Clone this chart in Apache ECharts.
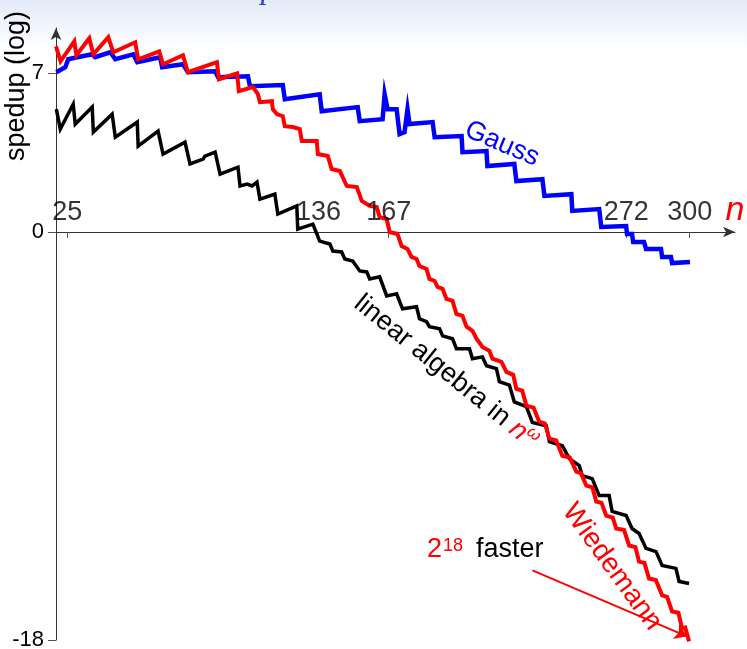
<!DOCTYPE html>
<html>
<head>
<meta charset="utf-8">
<script src="https://cdn.jsdelivr.net/npm/echarts@6/dist/echarts.min.js"></script>
<style>
html,body{margin:0;padding:0;background:#fff;}
#chart{width:747px;height:649px;}
</style>
</head>
<body>
<div id="chart"></div>
<script>
// ---- data (n, log speedup) ----
const xTickValues = [25, 136, 167, 272, 300];
const yTickValues = [-18, 0, 7];

const wiedemann = [
  [20,8.19],[22,7.53],[28.1,8.41],[29,7.80],[34.7,8.55],[36.5,7.84],[43.1,8.59],[45.3,7.93],
  [55,8.37],[56.3,7.62],[65.6,7.97],[67.3,7.40],[76.1,7.80],[78.3,7.05],[91.1,7.49],[92,6.74],
  [100,7.00],[100.8,6.21],[107,6.39],[109.2,6.08],[110.1,5.73],[115.4,5.77],[115.8,5.42],
  [117.6,5.20],[120.2,5.11],[121.1,4.67],[124.6,4.63],[127.7,4.54],[128.6,4.01],[135.2,4.01],
  [135.7,3.44],[140.1,3.35],[141.8,2.78],[145.4,2.69],[148.5,2.03],[152.9,1.98],[155.1,1.37],
  [158.6,1.15],[161.7,1.10],[163,0.66],[166.1,0.57],[167.4,0],[170.9,-0.09],[172.7,-0.62],
  [175.3,-0.75],[177.1,-1.10],[179.3,-1.19],[180.6,-1.50],[183.7,-1.63],[185,-2.07],[187.3,-2.16],
  [188.6,-2.42],[190.8,-2.51],[192.5,-2.95],[195.2,-3.04],[196.9,-3.61],[199.6,-3.70],[201.4,-4.18],
  [204,-4.36],[205.8,-4.71],[208.4,-5.07],[211.5,-5.24],[212.8,-5.59],[216.8,-5.73],[219,-6.17],
  [222,-6.3],[223.4,-6.92],[226,-7.0],[227.8,-7.66],[231,-7.75],[233.5,-8.37],[236,-8.45],
  [238,-9.12],[241,-9.2],[243.7,-9.87],[247,-9.95],[249.9,-10.57],[252,-10.65],[254.3,-11.19],
  [257,-11.27],[258.7,-11.89],[261,-11.95],[263.1,-12.51],[266,-12.6],[267.5,-13.08],[271,-13.15],
  [273.2,-13.83],[276,-13.9],[277.6,-14.54],[280,-14.6],[282,-15.29],[285,-15.35],[287.8,-16.03],
  [290,-16.1],[292.2,-16.74],[295,-16.8],[296.6,-17.49],[298,-17.45],[299.7,-18.06]
];

const linearAlgebra = [
  [20.15,5.42],[21.9,4.54],[27.6,5.64],[28.5,4.76],[36,5.51],[36.5,4.41],[44.8,5.20],[46.2,4.18],
  [55.9,4.85],[56.3,3.79],[65.1,4.45],[67.3,3.44],[77,3.96],[79.2,3.00],[85,3.22],[85.8,3.35],
  [90.3,3.52],[92.5,2.55],[100.4,2.86],[101.3,2.03],[104.4,2.11],[106.6,2.03],[108.8,2.20],
  [110.1,1.45],[116.7,1.67],[118,0.79],[126.4,1.15],[126.8,0.13],[133.5,0.35],[136.5,-0.40],
  [141,-0.53],[142.3,-0.84],[146.2,-0.88],[147.6,-1.19],[151.1,-1.28],[154.2,-1.72],[157.3,-1.76],
  [158.6,-2.07],[163,-1.98],[166.1,-2.82],[170.5,-2.73],[173.1,-3.39],[179.3,-3.30],[180.6,-3.83],
  [183.7,-3.96],[185,-4.18],[189.5,-4.27],[190.8,-4.58],[195.2,-4.71],[196.9,-5.15],[202.7,-5.15],
  [204,-5.59],[208.4,-5.51],[210.2,-5.90],[214.6,-6.03],[215.9,-6.6],[220.3,-6.75],[222.5,-7.5],
  [227.8,-7.7],[230.5,-8.4],[236.6,-8.55],[238,-9.25],[243.7,-9.43],[246.8,-10.00],[251.2,-10.31],
  [252.5,-10.75],[256.9,-10.88],[260,-11.63],[264.4,-11.63],[265.7,-12.33],[271.9,-12.51],
  [274.5,-13.08],[277.6,-13.30],[280.7,-13.96],[285.1,-14.10],[287.8,-14.71],[293.9,-14.84],
  [295.3,-15.42],[299.7,-15.51]
];

const gauss = [
  [20.15,7.05],[24.1,7.27],[25.4,7.62],[29.4,7.71],[36,7.84],[37.3,7.71],[44,7.93],[46.2,7.62],
  [54.1,7.84],[55.9,7.49],[66,7.71],[66.9,7.27],[76.1,7.40],[78.3,7.05],[90.3,7.09],[91.6,6.83],
  [104.8,6.87],[105.7,6.43],[120.2,6.48],[121.1,5.86],[136.5,6.08],[137.4,5.33],[153.3,5.51],
  [154.2,4.89],[164.3,4.98],[165.2,6.08],[166.5,5.42],[170.5,5.42],[171.8,4.32],[174,4.41],
  [175.3,5.42],[176.2,4.76],[186.4,4.85],[187.3,4.18],[199.2,4.23],[199.6,3.52],[210.2,3.57],
  [210.6,2.91],[222.5,3.00],[223.4,2.25],[234.9,2.33],[235.8,1.59],[247.7,1.67],[248.1,0.93],
  [260,1.01],[260.9,0.22],[271.9,0.26],[272.3,-0.09],[274.5,-0.09],[275,-0.44],[279.8,-0.44],
  [280.7,-0.75],[287.3,-0.75],[287.8,-1.10],[291.7,-1.10],[292.2,-1.37],[300.1,-1.32]
];

const arrowFrom = [230.5, -14.93];
const arrowTo = [298.8, -17.84];

// ---- chart ----
const FONT = '"Liberation Sans", Arial, Helvetica, sans-serif';
const chart = echarts.init(document.getElementById('chart'), null, {renderer: 'canvas'});
const deg = Math.PI / 180;

const option = {
  animation: false,
  backgroundColor: '#ffffff',
  textStyle: {fontFamily: FONT},
  grid: {left: 56, right: 12, top: 28, bottom: 9, containLabel: false, outerBoundsMode: 'none'},
  xAxis: {
    type: 'value', min: 20, max: 320,
    axisLine: {show: true, onZero: true, symbol: ['none', 'arrow'], symbolSize: [8, 12],
      lineStyle: {color: '#333', width: 1}},
    axisTick: {show: true, customValues: xTickValues, length: 6, lineStyle: {color: '#555'}},
    axisLabel: {show: false},
    splitLine: {show: false}
  },
  yAxis: {
    type: 'value', min: -18, max: 9,
    axisLine: {show: true, onZero: false, symbol: ['none', 'arrow'], symbolSize: [8, 12],
      lineStyle: {color: '#333', width: 1}},
    axisTick: {show: true, customValues: yTickValues, length: 8, lineStyle: {color: '#555'}},
    axisLabel: {customValues: yTickValues, margin: 12, fontSize: 22, color: '#000', fontFamily: FONT},
    splitLine: {show: false}
  },
  series: [
    {name: 'Gauss', type: 'line', data: gauss, showSymbol: false, clip: false, z: 2,
      lineStyle: {color: '#0000ff', width: 4.5, join: 'miter'}},
    {name: 'linear algebra', type: 'line', data: linearAlgebra, showSymbol: false, clip: false, z: 3,
      lineStyle: {color: '#000000', width: 3.5, join: 'miter'}},
    {name: 'Wiedemann', type: 'line', data: wiedemann, showSymbol: false, clip: false, z: 4,
      lineStyle: {color: '#ff0000', width: 4, join: 'miter'},
      markLine: {silent: true, symbol: ['none', 'arrow'], symbolSize: 12,
        label: {show: false},
        lineStyle: {color: '#ff0000', width: 2, type: 'solid'},
        data: [[{coord: arrowFrom}, {coord: arrowTo}]]}},
    {name: 'xTickLabels', type: 'scatter', silent: true, z: 10, symbolSize: 0,
      data: xTickValues.map(v => [v, 0]),
      label: {show: true, position: 'top', distance: 6, formatter: p => String(p.value[0]),
        fontSize: 27, color: '#000', fontFamily: FONT}}
  ],
  graphic: [
    {type: 'rect', z: -10, silent: true, shape: {x: 0, y: 0, width: 747, height: 50},
      style: {fill: new echarts.graphic.LinearGradient(0, 0, 0, 1, [
        {offset: 0, color: '#e2eaf8'}, {offset: 1, color: '#ffffff'}])}},
    {type: 'text', z: -5, silent: true, x: 373, y: 6,
      style: {text: 'Practical Comparison with Cumulative Search', textAlign: 'center',
        textVerticalAlign: 'bottom', font: 'italic 32px "Liberation Serif", serif', fill: '#3a3ac4'}},
    {type: 'text', z: 100, x: 17, y: 86, rotation: 90 * deg,
      style: {text: 'spedup (log)', textAlign: 'center', textVerticalAlign: 'middle',
        font: '27px ' + FONT, fill: '#000'}},
    {type: 'text', z: 100, x: 735, y: 211,
      style: {text: 'n', textAlign: 'center', textVerticalAlign: 'middle',
        font: 'italic 34px ' + FONT, fill: '#ff0000'}},
    {type: 'text', z: 100, x: 502, y: 144, rotation: -23 * deg,
      style: {text: 'Gauss', textAlign: 'center', textVerticalAlign: 'middle',
        font: '27px ' + FONT, fill: '#0000ff'}},
    {type: 'text', z: 100, x: 446, y: 372, rotation: -39 * deg,
      style: {text: '{a|linear algebra in }{b|n}{c|ω}', textAlign: 'center', textVerticalAlign: 'middle',
        rich: {
          a: {fontSize: 27, fontFamily: FONT, fill: '#000', color: '#000'},
          b: {fontSize: 27, fontFamily: FONT, fontStyle: 'italic', fill: '#ff0000', color: '#ff0000'},
          c: {fontSize: 17, fontFamily: FONT, fontStyle: 'italic', fill: '#ff0000', color: '#ff0000',
            padding: [0, 0, 14, 0]}
        }}},
    {type: 'text', z: 100, x: 612, y: 567, rotation: -54 * deg,
      style: {text: 'Wiedemann', textAlign: 'center', textVerticalAlign: 'middle',
        font: '28px ' + FONT, fill: '#ff0000'}},
    {type: 'text', z: 100, x: 427, y: 563,
      style: {text: '2', textAlign: 'left', textVerticalAlign: 'bottom',
        font: '27px ' + FONT, fill: '#ff0000'}},
    {type: 'text', z: 100, x: 443, y: 555,
      style: {text: '18', textAlign: 'left', textVerticalAlign: 'bottom',
        font: '18px ' + FONT, fill: '#ff0000'}},
    {type: 'text', z: 100, x: 476, y: 563,
      style: {text: 'faster', textAlign: 'left', textVerticalAlign: 'bottom',
        font: '27px ' + FONT, fill: '#000'}}
  ]
};
chart.setOption(option);
</script>
</body>
</html>
